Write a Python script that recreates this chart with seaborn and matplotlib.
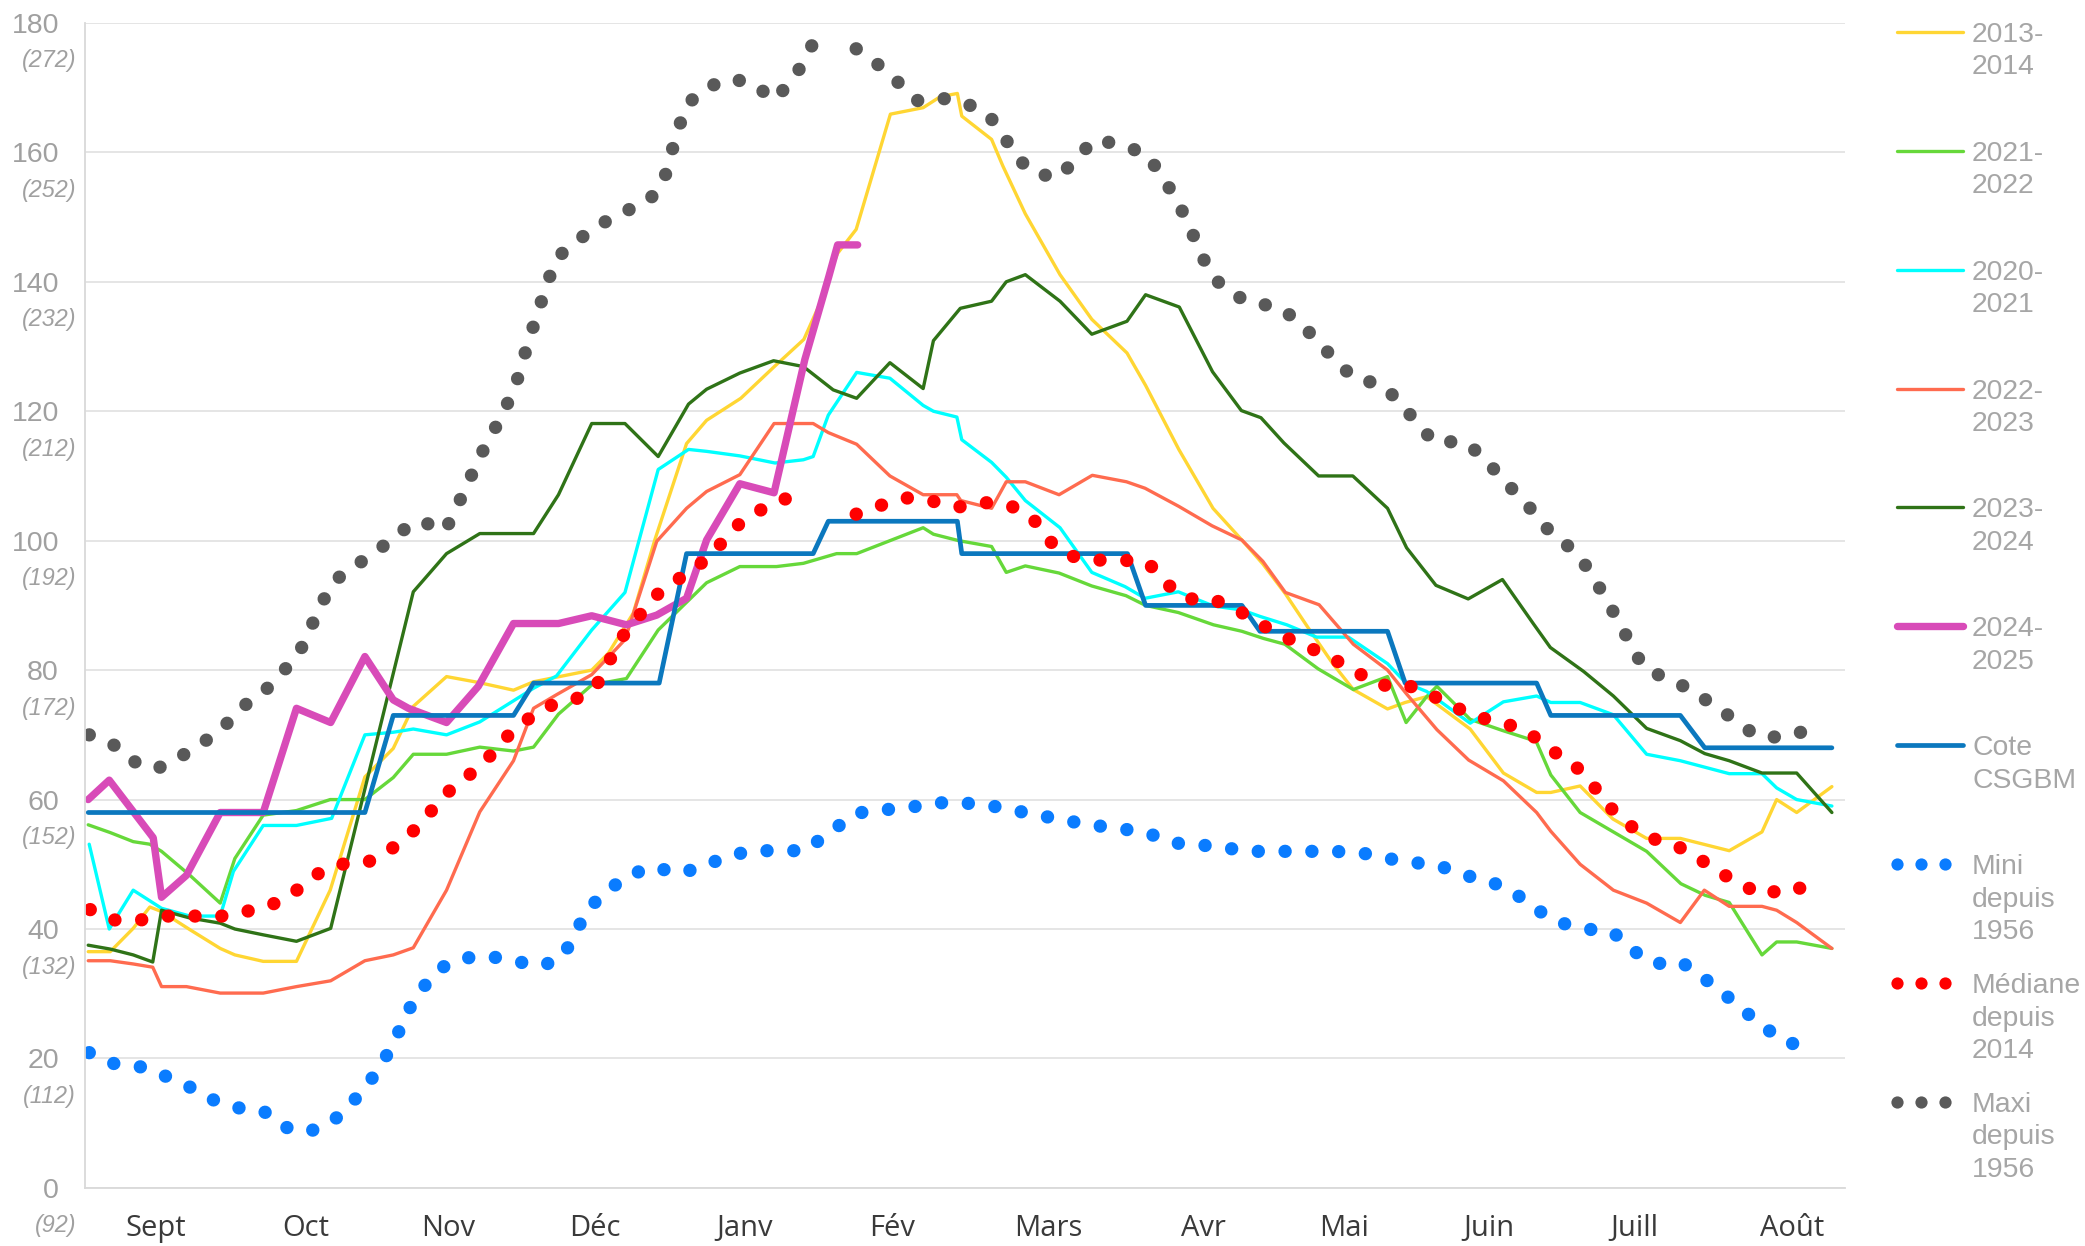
# Niveau du lac - comparaison des saisons (Sept -> Août)
import numpy as np
import matplotlib
matplotlib.use("Agg")
import matplotlib.pyplot as plt
from matplotlib.lines import Line2D
import seaborn as sns

# ---- data (x = days since 1 Sept, y = cote) ----
months = ["Sept", "Oct", "Nov", "Déc", "Janv", "Fév", "Mars", "Avr", "Mai", "Juin", "Juill", "Août"]
yticks = [0, 20, 40, 60, 80, 100, 120, 140, 160, 180]

d_1314 = [0.7, 5.2, 9.9, 13.3, 15.7, 21.5, 27.7, 30.7, 36.5, 43.3, 50.2, 57.3, 63.1, 67.2, 74.0, 80.5, 87.7, 91.8,
          103.7, 107.1, 112.2, 116.6, 123.1, 127.2, 134.2, 141.2, 147.1, 150.3, 152.2, 154.0, 157.8, 164.8, 171.5,
          175.0, 178.5, 179.4, 185.5, 187.8, 192.4, 199.5, 206.0, 213.2, 217.0, 223.8, 230.8, 236.7, 241.0, 245.6,
          250.3, 255.3, 259.5, 266.5, 270.1, 274.5, 283.4, 290.2, 297.0, 299.9, 305.9, 312.6, 319.5, 326.4, 336.4,
          343.1, 346.1, 350.2, 357.4]
v_1314 = [36.5, 36.5, 40.1, 43.4, 42.7, 39.9, 37.0, 36.0, 35.0, 35.0, 46.0, 63.5, 67.9, 74.4, 79.0, 78.1, 76.9, 78.2,
          80.0, 82.6, 88.8, 100.1, 115.0, 118.6, 122.0, 127.0, 131.1, 136.5, 141.1, 144.4, 148.1, 165.9, 166.9,
          168.6, 169.1, 165.6, 162.0, 157.9, 150.5, 141.1, 134.2, 129.0, 124.0, 114.1, 105.0, 100.1, 96.4, 91.8,
          86.5, 81.0, 77.0, 74.0, 75.0, 75.9, 70.9, 64.1, 61.1, 61.1, 62.1, 57.0, 54.0, 54.0, 52.1,
          55.0, 60.0, 58.0, 62.0]

d_2122 = [0.7, 5.2, 9.9, 13.3, 15.7, 21.5, 27.7, 30.7, 36.5, 43.3, 50.2, 57.3, 63.1, 67.2, 74.0, 80.8, 87.7, 91.8,
          96.9, 103.7, 110.8, 117.3, 127.2, 134.0, 141.5, 147.0, 153.8, 157.9, 171.5, 173.6, 178.8, 185.5, 188.5,
          192.4, 199.3, 206.0, 213.0, 217.0, 223.7, 230.9, 236.7, 241.1, 245.5, 252.3, 259.5, 266.5, 270.3, 274.5,
          276.6, 283.4, 289.9, 296.9, 299.9, 305.9, 312.7, 319.5, 326.5, 331.5, 336.4, 343.1, 346.1, 350.2, 357.4]
v_2122 = [56.1, 54.9, 53.5, 53.1, 52.0, 48.3, 44.0, 50.9, 57.6, 58.3, 60.0, 60.0, 63.4, 67.0, 67.0, 68.1, 67.5, 68.1,
          73.2, 77.7, 78.7, 86.2, 93.5, 96.0, 96.0, 96.5, 98.0, 98.0, 102.0, 101.0, 100.0, 99.1, 95.1,
          96.1, 95.0, 93.0, 91.5, 90.0, 88.9, 87.0, 86.0, 84.9, 84.0, 80.2, 77.0, 79.0, 71.9, 75.9,
          77.5, 72.4, 70.7, 69.0, 63.8, 58.0, 55.0, 52.0, 47.0, 45.2, 44.1, 36.0, 38.0, 38.0, 37.0]

d_2021 = [0.9, 5.0, 9.9, 15.7, 21.5, 27.7, 30.4, 36.5, 43.3, 50.5, 57.3, 63.1, 67.2, 74.0, 80.8, 91.8, 96.5, 103.7,
          110.5, 117.3, 123.5, 127.2, 134.0, 141.2, 147.0, 149.0, 152.1, 157.9, 164.7, 171.5, 173.6, 178.4, 179.4,
          185.5, 188.5, 192.4, 199.5, 206.0, 212.8, 216.9, 223.7, 230.9, 236.7, 240.4, 245.9, 252.0, 258.5, 266.5,
          270.3, 274.5, 283.4, 290.2, 297.0, 299.9, 305.9, 312.7, 319.5, 326.4, 336.4, 343.1, 346.1, 350.2, 357.4]
v_2021 = [53.1, 40.0, 46.0, 43.2, 42.0, 42.0, 48.9, 56.0, 56.0, 57.1, 70.0, 70.4, 70.9, 70.0, 72.0, 77.2, 79.1, 86.2,
          92.0, 111.0, 114.1, 113.8, 113.1, 112.0, 112.5, 113.0, 119.4, 126.0, 125.1, 120.9, 120.0, 119.1, 115.6,
          112.1, 109.8, 106.2, 102.0, 95.1, 92.9, 91.1, 92.1, 89.9, 89.3, 88.3, 87.0, 85.1, 85.1, 81.0,
          78.0, 76.7, 71.8, 75.1, 76.0, 75.0, 75.0, 73.1, 67.0, 66.0, 64.0, 64.0, 61.8, 60.0, 59.0]

d_2223 = [0.7, 5.2, 9.9, 13.9, 15.7, 20.8, 27.7, 36.5, 43.3, 50.3, 57.3, 63.1, 67.2, 74.0, 80.8, 87.7, 91.8, 96.5,
          103.7, 110.5, 117.0, 123.1, 127.2, 134.0, 141.0, 149.0, 152.1, 157.9, 164.7, 171.5, 178.4, 179.2, 185.5,
          188.5, 192.4, 199.3, 206.1, 213.1, 216.9, 223.8, 230.6, 236.7, 241.0, 245.6, 252.5, 259.5, 266.5, 270.3,
          276.6, 283.1, 290.2, 297.0, 299.9, 305.9, 312.7, 319.5, 326.4, 331.3, 336.4, 343.1, 346.1, 350.2, 357.4]
v_2223 = [35.1, 35.1, 34.6, 34.1, 31.1, 31.1, 30.1, 30.1, 31.1, 32.0, 35.1, 36.0, 37.1, 46.0, 58.1, 66.0, 74.1, 76.2,
          79.3, 84.7, 99.9, 105.0, 107.6, 110.2, 118.1, 118.1, 116.7, 114.9, 110.0, 107.1, 107.1, 106.2, 105.0,
          109.1, 109.1, 107.1, 110.1, 109.1, 108.1, 105.3, 102.3, 100.1, 96.8, 92.0, 90.1, 84.0, 80.0, 76.4,
          70.8, 66.1, 62.9, 58.0, 55.1, 50.0, 46.0, 44.0, 41.0, 46.0, 43.5, 43.5, 42.9, 41.0, 37.0]

d_2324 = [0.7, 5.2, 9.9, 13.9, 15.7, 21.5, 27.7, 30.7, 36.5, 43.3, 50.3, 67.2, 74.0, 80.8, 91.8, 96.9, 103.7, 110.5,
          117.3, 123.5, 127.2, 134.0, 140.9, 147.0, 153.1, 157.9, 164.7, 171.5, 173.6, 179.1, 185.5, 188.5, 192.4,
          199.5, 206.0, 213.2, 217.0, 223.9, 230.7, 236.6, 240.6, 245.3, 252.4, 259.4, 266.5, 270.4, 276.4, 283.0,
          290.0, 296.3, 299.8, 306.6, 312.7, 319.5, 326.4, 331.4, 336.4, 343.1, 350.2, 357.4]
v_2324 = [37.5, 36.9, 36.0, 34.9, 42.9, 41.7, 40.9, 40.0, 39.1, 38.1, 40.1, 92.1, 98.0, 101.1, 101.1, 107.1, 118.1, 118.1,
          113.0, 121.1, 123.4, 125.9, 127.8, 126.9, 123.3, 122.0, 127.5, 123.5, 130.9, 135.9, 137.0, 140.0, 141.1,
          137.0, 131.9, 133.9, 138.0, 136.1, 126.1, 120.1, 119.0, 115.1, 110.0, 110.0, 105.0, 98.9, 93.1, 91.0,
          94.0, 87.2, 83.5, 79.8, 76.0, 71.0, 69.1, 67.1, 66.0, 64.1, 64.1, 58.0]

d_2425 = [0.7, 5.0, 14.0, 15.7, 20.8, 27.7, 36.5, 43.3, 50.3, 57.3, 63.1, 66.2, 74.0, 80.5, 87.7, 96.9, 103.7, 110.8,
          117.0, 123.1, 127.2, 134.0, 141.0, 147.3, 152.2, 154.0, 158.1]
v_2425 = [60.0, 63.0, 54.1, 44.9, 48.3, 58.0, 58.0, 74.1, 71.9, 82.1, 75.4, 74.1, 71.9, 77.5, 87.2, 87.2, 88.4, 87.0,
          88.5, 91.1, 100.1, 108.8, 107.4, 128.0, 140.8, 145.7, 145.7]

d_csgbm = [0.7, 57.3, 63.1, 87.7, 91.8, 117.5, 123.1, 149.0, 152.1, 178.5, 179.4, 213.3, 217.0, 236.7, 240.4,
           266.5, 270.1, 297.0, 299.9, 326.4, 331.4, 357.4]
v_csgbm = [58, 58, 73, 73, 78, 78, 98, 98, 103, 103, 98, 98, 90, 90, 86, 86, 78, 78, 73, 73, 68, 68]

d_mini = [0.9, 6.0, 11.4, 16.1, 21.2, 25.9, 31.1, 36.5, 40.9, 45.6, 50.6, 54.6, 58.1, 61.2, 63.8, 66.0, 68.9, 72.6,
          77.4, 82.7, 88.1, 93.5, 97.7, 100.4, 102.8, 106.7, 111.2, 116.3, 121.4, 126.1, 131.2, 136.5, 141.9, 147.4,
          151.4, 157.8, 163.3, 168.8, 174.2, 179.5, 185.0, 190.3, 195.7, 201.1, 206.6, 212.1, 217.5, 222.7, 228.2,
          233.5, 238.9, 255.4, 261.0, 266.4, 271.8, 277.3, 282.4, 287.7, 292.6, 297.0, 301.7, 307.1, 312.5, 316.5,
          320.9, 326.4, 330.9, 335.3, 339.4, 343.6, 348.2, 353.3]
v_mini = [20.9, 19.2, 18.7, 17.4, 15.7, 13.7, 12.4, 11.9, 9.4, 8.6, 10.2, 13.1, 16.2, 19.7, 23.4, 27.2, 30.7, 33.9,
          35.5, 35.8, 35.0, 34.3, 35.6, 39.4, 43.0, 45.8, 48.3, 49.6, 48.6, 49.5, 51.2, 52.1, 52.1, 52.1,
          54.4, 57.9, 58.4, 58.8, 59.5, 59.5, 59.1, 58.3, 57.5, 56.7, 56.0, 55.5, 54.8, 53.3, 53.0,
          52.5, 52.0, 52.0, 51.8, 50.9, 50.3, 49.7, 48.3, 47.3, 45.5, 43.0, 41.0, 40.0, 39.6, 36.8,
          34.6, 35.0, 32.6, 30.0, 27.4, 24.8, 22.4, 22.0]

d_med = [1.1, 6.0, 11.4, 17.0, 28.0, 33.0, 38.4, 43.2, 47.6, 52.4, 57.8, 62.6, 66.9, 70.6, 74.2, 78.5, 82.6, 86.2,
         90.4, 95.2, 100.4, 104.6, 109.7, 116.6, 120.9, 125.5, 129.5, 133.2, 137.6, 142.6, 147.8, 152.8, 157.8,
         163.0, 168.3, 173.4, 178.7, 184.0, 189.4, 193.9, 197.1, 201.2, 206.7, 212.1, 217.4, 221.1, 225.1, 230.6,
         235.6, 240.3, 245.1, 250.2, 255.2, 260.0, 264.8, 269.8, 274.8, 279.7, 284.6, 290.0, 295.2, 299.3, 304.1,
         307.9, 311.1, 315.0, 319.4, 324.8, 329.4, 333.9, 338.5, 343.5, 348.7, 353.8]
v_med = [43.0, 41.4, 41.4, 42.0, 42.0, 42.7, 43.8, 45.9, 48.5, 50.0, 50.3, 52.3, 54.9, 58.0, 61.1, 63.7, 66.5, 69.6,
         72.3, 74.5, 75.5, 77.5, 84.9, 91.4, 93.8, 96.1, 99.0, 102.2, 104.5, 106.3, 107.4, np.nan, 104.1,
         105.5, 106.6, 106.1, 105.2, 105.9, 105.4, 103.5, 100.1, 97.7, 97.0, 97.0, 96.7, 93.5, 91.0, 91.0,
         89.4, 87.2, 85.2, 83.6, 81.8, 79.8, 77.6, 77.9, 76.4, 74.5, 72.8, 71.9, 70.5, 67.9, 65.8,
         62.9, 59.5, 56.6, 54.2, 53.2, 51.3, 49.0, 47.0, 45.2, 46.6, 45.9]

d_maxi = [0.9, 6.0, 10.3, 14.6, 19.5, 24.2, 28.5, 32.2, 36.7, 40.5, 44.0, 46.3, 48.5, 51.2, 55.7, 60.3, 64.6, 68.6,
          73.7, 76.1, 78.4, 80.6, 83.2, 85.8, 88.1, 89.6, 91.2, 92.9, 94.6, 96.4, 100.6, 105.1, 109.9, 115.0, 118.3,
          119.7, 121.3, 122.9, 126.9, 131.9, 136.6, 141.0, 144.7, 147.5, 149.6, 153.7, 157.8, 162.2, 166.4, 170.4,
          175.0, 179.4, 184.4, 187.6, 190.3, 194.0, 199.3, 202.9, 206.7, 212.2, 217.3, 220.3, 223.3, 225.7, 227.9,
          230.1, 233.7, 238.7, 244.0, 248.3, 252.1, 255.9, 259.8, 265.2, 269.0, 272.5, 276.2, 281.6, 285.7, 289.3,
          293.1, 296.9, 300.3, 304.9, 308.0, 310.8, 313.5, 316.1, 318.8, 323.4, 328.4, 332.9, 337.4, 341.8, 346.8,
          352.1]
v_maxi = [70.0, 68.4, 65.8, 64.7, 66.6, 68.8, 71.3, 74.3, 76.7, 79.7, 82.9, 86.7, 90.4, 93.9, 96.3, 98.7, 101.4, 103.1,
          101.5, 105.2, 108.9, 112.7, 116.3, 120.1, 123.9, 127.8, 131.8, 135.8, 139.7, 143.6, 146.3, 148.7, 150.7, 152.3, 155.1,
          159.2, 163.2, 167.2, 169.9, 171.4, 170.7, 168.1, 171.1, 174.5, 177.9, np.nan, 176.0, 173.6, 170.8, 168.0,
          168.4, 167.8, 166.2, 163.1, 159.5, 156.8, 156.1, 159.2, 162.0, 161.1, 159.7, 156.3, 152.8, 149.0, 145.2,
          141.4, 138.5, 136.7, 136.2, 133.9, 130.9, 127.8, 125.0, 124.2, 121.4, 118.2, 115.1, 115.4, 113.3, 110.1,
          107.1, 104.0, 100.8, 98.4, 95.1, 91.5, 87.9, 84.2, 80.5, 78.7, 77.1, 74.7, 72.4, 69.9, 69.6,
          70.6]

# (label, days, values, colour, width, dotted) -- drawing order = legend order
series = [
    ("2013-\n2014", d_1314, v_1314, "#FFD633", 2.4, False),
    ("2021-\n2022", d_2122, v_2122, "#66D83A", 2.4, False),
    ("2020-\n2021", d_2021, v_2021, "#00FFFF", 2.4, False),
    ("2022-\n2023", d_2223, v_2223, "#FF6B4F", 2.4, False),
    ("2023-\n2024", d_2324, v_2324, "#2F7317", 2.4, False),
    ("2024-\n2025", d_2425, v_2425, "#D84BB8", 5.3, False),
    ("Cote\nCSGBM", d_csgbm, v_csgbm, "#0B78BE", 3.4, False),
    ("Mini\ndepuis\n1956", d_mini, v_mini, "#0A7CFF", 9.6, True),
    ("Médiane\ndepuis\n2014", d_med, v_med, "#FF0000", 9.6, True),
    ("Maxi\ndepuis\n1956", d_maxi, v_maxi, "#595959", 9.6, True),
]

# ---- figure ----
sns.set_theme(style="white")
plt.rcParams["font.family"] = ["Liberation Sans", "DejaVu Sans"]

W, H = 2085, 1246
fig = plt.figure(figsize=(W / 100, H / 100), dpi=100)
ax = fig.add_axes([84.8 / W, 1 - 1187.9 / H, 1759.8 / W, 1165.0 / H])

DOTS = (0, (0.01, 2.0))
for label, days, vals, color, lw, dotted in series:
    days = np.asarray(days, float)
    vals = np.asarray(vals, float)
    gap = np.isnan(vals)
    part = np.cumsum(gap)  # split the line where a value is missing
    style = dict(linestyle=DOTS, dash_capstyle="round") if dotted else \
        dict(solid_capstyle="round", solid_joinstyle="round")
    sns.lineplot(x=days[~gap], y=vals[~gap], units=part[~gap], estimator=None, sort=False,
                 color=color, linewidth=lw, legend=False, ax=ax, **style)

ax.set_xlim(0, 360)
ax.set_ylim(0, 180)
ax.set_xlabel("")
ax.set_ylabel("")

# axes styling
for side in ["top", "right"]:
    ax.spines[side].set_visible(False)
for side in ["left", "bottom"]:
    ax.spines[side].set_color("#D9D9D9")
    ax.spines[side].set_linewidth(1.3)
ax.yaxis.grid(True, color="#E3E3E3", linewidth=1.3)
ax.xaxis.grid(False)
ax.set_axisbelow(True)

ax.set_yticks(yticks)
ax.set_yticklabels([str(v) for v in yticks])
ax.tick_params(axis="y", length=0, pad=18.6, labelsize=20.5, labelcolor="#A0A0A0")
for v in yticks:
    ax.annotate(f"({v + 92})", xy=(0, v), xycoords=("axes fraction", "data"),
                xytext=(-6.3, -27.4), textcoords="offset points", ha="right", va="center",
                fontsize=16.8, fontstyle="italic", color="#A0A0A0", annotation_clip=False)

month_pos = [14.6, 45.2, 74.3, 104.3, 135.0, 165.1, 197.1, 228.9, 257.6, 287.2, 316.9, 349.2]
ax.set_xticks(month_pos)
ax.set_xticklabels(months, fontfamily="Open Sans", fontsize=21, color="#3A3A3A")
ax.tick_params(axis="x", length=0, pad=19)

# ---- legend (drawn by hand: handle on first text line) ----
for i, (label, days, vals, color, lw, dotted) in enumerate(series):
    yc = 31.8 + 118.9 * i
    if dotted:
        fig.add_artist(Line2D([1897 / W, 1921 / W, 1945 / W], [1 - yc / H] * 3, transform=fig.transFigure,
                              linestyle="none", marker="o", markersize=8.8, markeredgewidth=0, color=color))
    else:
        fig.add_artist(Line2D([1897 / W, 1963 / W], [1 - yc / H] * 2, transform=fig.transFigure,
                              color=color, linewidth=lw, solid_capstyle="round"))
    for k, line in enumerate(label.split("\n")):
        fig.text(1972 / W, 1 - (yc + 10 + 32.5 * k) / H, line, ha="left", va="baseline",
                 fontsize=20.4, color="#A6A6A6")

fig.savefig("out.png", dpi=100)
